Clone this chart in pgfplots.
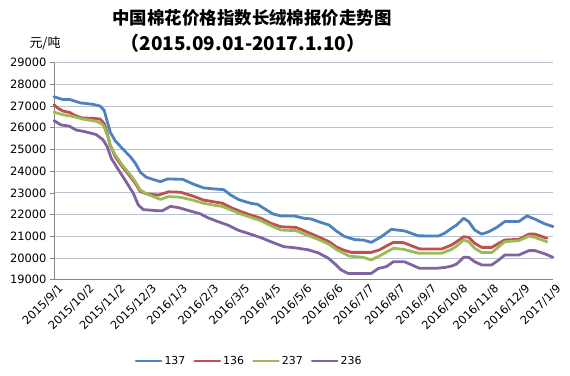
\documentclass[border=0pt]{standalone}
\usepackage{pgfplots}
\pgfplotsset{compat=1.18}
\usepackage{fontspec}
\setmainfont{DejaVu Sans}
\newfontfamily\cjk{Noto Sans CJK SC}
\definecolor{c137}{HTML}{4F81BD}
\definecolor{c136}{HTML}{C0504D}
\definecolor{c237}{HTML}{9BBB59}
\definecolor{c236}{HTML}{8064A2}
\definecolor{gridc}{RGB}{185,195,205}
\definecolor{axgray}{RGB}{134,134,134}
\begin{document}
\begin{tikzpicture}
\path (0bp,0bp) rectangle (570bp,376bp);
\node[font=\cjk\bfseries\fontsize{17.5}{21}\selectfont] at (252bp,358bp) {中国棉花价格指数长绒棉报价走势图};
\node[font=\cjk\bfseries\fontsize{19}{22}\selectfont] at (243bp,333bp) {（2015.09.01-2017.1.10）};
\node[font=\cjk\fontsize{13}{15}\selectfont] at (45bp,333bp) {元/吨};
\begin{axis}[
  at={(54bp,96.3bp)}, anchor=south west,
  scale only axis, width=499bp, height=217bp,
  xmin=0, xmax=497, ymin=19000, ymax=29000,
  axis lines*=left,
  axis line style={-, draw=axgray, line width=0.8pt},
  ytick={19000,20000,...,29000},
  scaled y ticks=false,
  yticklabel style={font=\fontsize{11.5}{13}\selectfont},
  /pgf/number format/assume math mode=true,
  /pgf/number format/set thousands separator={},
  xtick={0,31,...,496},
  xticklabels={2015/9/1,2015/10/2,2015/11/2,2015/12/3,2016/1/3,2016/2/3,2016/3/5,2016/4/5,2016/5/6,2016/6/6,2016/7/7,2016/8/7,2016/9/7,2016/10/8,2016/11/8,2016/12/9,2017/1/9},
  xticklabel style={font=\fontsize{11.5}{13}\selectfont, rotate=45, anchor=north east, inner sep=1bp, xshift=4bp, yshift=-1bp},
  tick align=outside, major tick length=4bp,
  tick style={draw=axgray, line width=0.8pt},
  xtick style={draw=none},
  ymajorgrids, major grid style={draw=gridc, line width=0.9pt},
  legend style={draw=none, at={(0.391,-0.375)}, anchor=center, legend columns=4,
    font=\fontsize{11}{12}\selectfont,
    /tikz/every even column/.append style={column sep=6bp}},
  legend image code/.code={\draw[#1] (0bp,0bp) -- (25bp,0bp);},
  every axis plot/.append style={line width=2.8pt, line join=round, line cap=round},
  clip=false,
]
\addplot[c137] coordinates {
(0,27430)(9,27300)(16,27300)(26,27150)(39,27080)(46,27000)(50,26800)(53,26300)(56,25800)(61,25400)(68,25050)(76,24670)(81,24370)(86,23950)(92,23720)(100,23600)(106,23520)(113,23640)(128,23630)(138,23420)(149,23230)(158,23190)(169,23150)(176,22900)(184,22690)(196,22520)(203,22470)(209,22290)(218,22030)(226,21940)(239,21940)(249,21830)(256,21800)(265,21650)(274,21520)(281,21250)(289,21000)(300,20840)(308,20830)(316,20720)(326,20980)(336,21320)(349,21250)(363,21020)(383,21015)(389,21140)(396,21370)(401,21520)(408,21830)(413,21680)(419,21290)(426,21100)(433,21210)(441,21410)(449,21680)(463,21680)(471,21940)(479,21790)(489,21570)(497,21450)
};
\addlegendentry{137}
\addplot[c136] coordinates {
(0,27060)(4,26900)(9,26770)(16,26700)(20,26590)(28,26450)(39,26440)(46,26400)(50,26200)(53,25750)(56,25200)(61,24670)(68,24210)(76,23750)(81,23440)(86,23060)(92,22960)(104,22900)(114,23050)(126,23030)(138,22860)(149,22670)(168,22520)(178,22290)(186,22140)(196,21980)(206,21830)(216,21600)(226,21440)(241,21410)(249,21260)(263,20980)(274,20750)(281,20520)(288,20370)(296,20260)(316,20260)(324,20370)(331,20550)(338,20720)(348,20710)(364,20420)(386,20415)(396,20600)(401,20750)(408,20980)(413,20950)(419,20680)(426,20490)(436,20490)(443,20680)(449,20830)(463,20860)(473,21100)(479,21100)(491,20910)
};
\addlegendentry{136}
\addplot[c237] coordinates {
(0,26720)(9,26600)(19,26520)(29,26400)(43,26290)(49,26130)(53,25670)(56,25200)(61,24750)(68,24290)(76,23830)(81,23520)(86,23130)(92,22960)(106,22700)(114,22830)(126,22800)(138,22670)(149,22520)(168,22370)(178,22180)(186,22030)(196,21870)(206,21720)(216,21490)(226,21290)(241,21260)(249,21110)(263,20860)(274,20630)(281,20400)(294,20090)(308,20030)(316,19910)(324,20090)(338,20450)(348,20400)(363,20220)(386,20220)(396,20400)(401,20550)(408,20830)(413,20750)(419,20450)(426,20250)(436,20250)(443,20520)(449,20750)(463,20800)(473,21010)(479,20950)(491,20750)
};
\addlegendentry{237}
\addplot[c236] coordinates {
(0,26330)(7,26130)(15,26080)(22,25900)(31,25820)(42,25690)(49,25440)(53,25130)(57,24600)(63,24150)(70,23650)(79,22980)(84,22440)(89,22230)(103,22180)(108,22180)(116,22380)(125,22310)(133,22200)(146,22030)(153,21860)(163,21680)(173,21520)(183,21290)(193,21140)(206,20940)(216,20750)(229,20520)(240,20470)(253,20380)(263,20240)(273,20000)(281,19680)(286,19450)(293,19290)(316,19290)(323,19520)(331,19600)(338,19830)(349,19830)(364,19525)(381,19525)(390,19570)(396,19630)(401,19720)(408,20030)(413,20030)(419,19830)(426,19680)(436,19680)(443,19910)(449,20140)(463,20140)(473,20340)(479,20340)(489,20190)(497,20030)
};
\addlegendentry{236}
\end{axis}
\end{tikzpicture}
\end{document}
